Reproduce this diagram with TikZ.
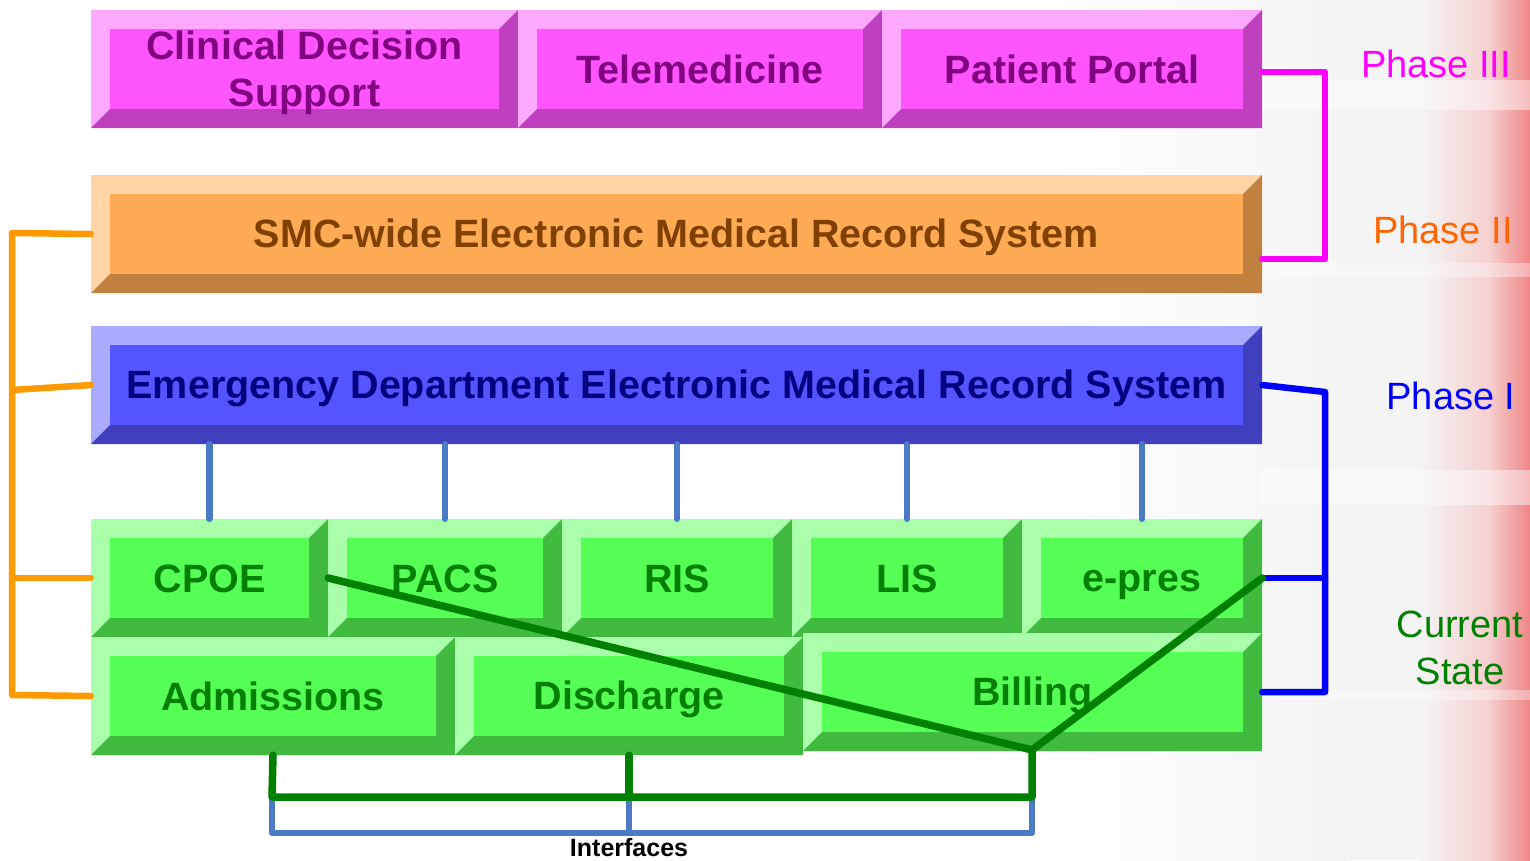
\documentclass[tikz,border=0pt]{standalone}
\usepackage{fontspec}
\setmainfont{Liberation Sans}
\usetikzlibrary{calc}
\definecolor{magL}{HTML}{FFA8FF}\definecolor{magF}{HTML}{FF55FF}\definecolor{magD}{HTML}{BF40BF}\definecolor{magT}{HTML}{800080}
\definecolor{orgL}{HTML}{FFD4A6}\definecolor{orgF}{HTML}{FFAA55}\definecolor{orgD}{HTML}{BF8040}\definecolor{orgT}{HTML}{804000}
\definecolor{bluL}{HTML}{AAAAFF}\definecolor{bluF}{HTML}{5555FF}\definecolor{bluD}{HTML}{4040BF}\definecolor{bluT}{HTML}{000080}
\definecolor{grnL}{HTML}{AAFFAA}\definecolor{grnF}{HTML}{55FF55}\definecolor{grnD}{HTML}{40BB40}\definecolor{grnT}{HTML}{007F00}
\definecolor{ifaceC}{HTML}{4A7BC4}
\definecolor{darkG}{HTML}{008000}
\definecolor{brOrange}{HTML}{FF9900}
\definecolor{brMag}{HTML}{FF00FF}
\definecolor{brBlue}{HTML}{0000FF}
\definecolor{ph2C}{HTML}{FF6600}
\definecolor{bgGray}{HTML}{F4F4F4}
\definecolor{bgPink}{HTML}{F6CFCF}
\definecolor{bgRed}{HTML}{F08686}
\newcommand{\bevbox}[7]{%
  \pgfmathsetmacro\bbax{#2+19}\pgfmathsetmacro\bbay{#3+19}%
  \pgfmathsetmacro\bbbx{#4-19}\pgfmathsetmacro\bbby{#5-19}%
  \pgfmathsetmacro\bbcx{(#2+#4)/2}\pgfmathsetmacro\bbcy{(#3+#5)/2}%
  \pgfmathsetmacro\bbw{#4-#2}\pgfmathsetmacro\bbh{#5-#3}%
  \fill[#6L] (#2,#3) rectangle (#4,#5);
  \fill[#6D] (#4,#3) -- (#4,#5) -- (#2,#5) -- (\bbax,\bbby) -- (\bbbx,\bbby) -- (\bbbx,\bbay) -- cycle;
  \fill[#6F] (\bbax,\bbay) rectangle (\bbbx,\bbby);
  \node[boxnode, minimum width=\bbw pt, minimum height=\bbh pt, text=#6T] (#1) at (\bbcx,\bbcy) {\rule[-0.184em]{0pt}{1.084em}#7};
}
\tikzset{
  boxnode/.style={inner sep=0pt, align=center, font=\bfseries\fontsize{39.5}{47}\selectfont},
  phaselbl/.style={align=center, inner sep=0pt, font=\fontsize{38}{47}\selectfont},
  br/.style={line width=6.5pt, line cap=round, line join=round},
  iface/.style={line width=6.5pt, ifaceC, line cap=round, line join=round},
  gline/.style={line width=7.5pt, darkG, line cap=round, line join=round},
}
\begin{document}
\begin{tikzpicture}[x=1pt,y=-1pt]
\useasboundingbox (0,0) rectangle (1530,860);
% background
\shade[left color=white, right color=bgGray] (1050,0) rectangle (1350,860);
\fill[bgGray] (1349,0) rectangle (1421,860);
\shade[left color=bgGray, right color=bgPink] (1420,0) rectangle (1490,860);
\shade[left color=bgPink, right color=bgRed] (1489,0) rectangle (1530,860);
\fill[white, opacity=0.45] (1262,80) rectangle (1530,110);
\fill[white, opacity=0.35] (1262,263) rectangle (1530,277);
\fill[white, opacity=0.45] (1262,470) rectangle (1530,505);
\fill[white, opacity=0.35] (1262,690) rectangle (1530,700);
% phase III
\bevbox{cds}{91}{10}{518}{128}{mag}{Clinical Decision\\Support}
\bevbox{tele}{518}{10}{882}{128}{mag}{Telemedicine}
\bevbox{pp}{882}{10}{1262}{128}{mag}{Patient Portal}
% phase II
\bevbox{smc}{91}{175}{1262}{293}{org}{SMC-wide Electronic Medical Record System}
% phase I
\bevbox{ed}{91}{326}{1262}{444}{blu}{Emergency Department Electronic Medical Record System}
% current state
\bevbox{cpoe}{91}{519}{328}{637}{grn}{CPOE}
\bevbox{pacs}{328}{519}{562}{637}{grn}{PACS}
\bevbox{ris}{562}{519}{792}{637}{grn}{RIS}
\bevbox{lis}{792}{519}{1022}{637}{grn}{LIS}
\bevbox{epres}{1022}{519}{1262}{637}{grn}{e-pres}
\bevbox{adm}{91}{637}{455}{755}{grn}{Admissions}
\bevbox{dis}{455}{637}{803}{755}{grn}{Discharge}
\bevbox{bill}{803}{633}{1262}{751}{grn}{Billing}
% interfaces from ED EMR
\foreach \n in {cpoe,pacs,ris,lis,epres}
  \draw[iface] (\n.north) -- (\n.north |- ed.south);
% orange bracket
\coordinate (oTop) at (12,233);
\coordinate (oBot) at (12,695);
\draw[br, brOrange] (smc.west) -- (oTop) -- (oBot) -- (adm.west);
\draw[br, brOrange] (ed.west) -- (12,390);
\draw[br, brOrange] (cpoe.west) -- (cpoe.west -| oTop);
% magenta bracket
\coordinate (mTop) at (1325,72);
\coordinate (mStart) at ([yshift=-3pt]pp.east);
\coordinate (mEnd) at ([yshift=-25pt]smc.east);
\draw[br, brMag] (mStart) -- (mTop) -- (mTop |- mEnd) -- (mEnd);
% blue bracket
\coordinate (bTop) at (1325,392);
\draw[br, brBlue] (ed.east) -- (bTop) -- (bTop |- bill.east) -- (bill.east);
\draw[br, brBlue] (epres.east) -- (epres.east -| bTop);
% green interface lines
\coordinate (J) at (1032,750);
\coordinate (g1) at (272,797);
\draw[iface] (g1) -- ++(0,36) -| (g1 -| J);
\draw[iface] (dis.south |- g1) -- ++(0,36);
\draw[gline] (cpoe.east) -- (J) -- (epres.east);
\draw[gline] (J) -- (g1 -| J) -- (g1) -- (adm.south);
\draw[gline] (dis.south) -- (dis.south |- g1);
\node[font=\bfseries\fontsize{25}{28}\selectfont, inner sep=0pt] (ifl) at (629,848) {Interfaces};
% phase labels
\node[phaselbl, text=brMag] (p3) at (1436,64) {Phase III};
\node[phaselbl, text=ph2C] (p2) at (1443,230) {Phase II};
\node[phaselbl, text=brBlue] (p1) at (1451,396) {Phase I};
\node[phaselbl, text=darkG] (cs) at (1460,648) {Current\\State};
\end{tikzpicture}
\end{document}
